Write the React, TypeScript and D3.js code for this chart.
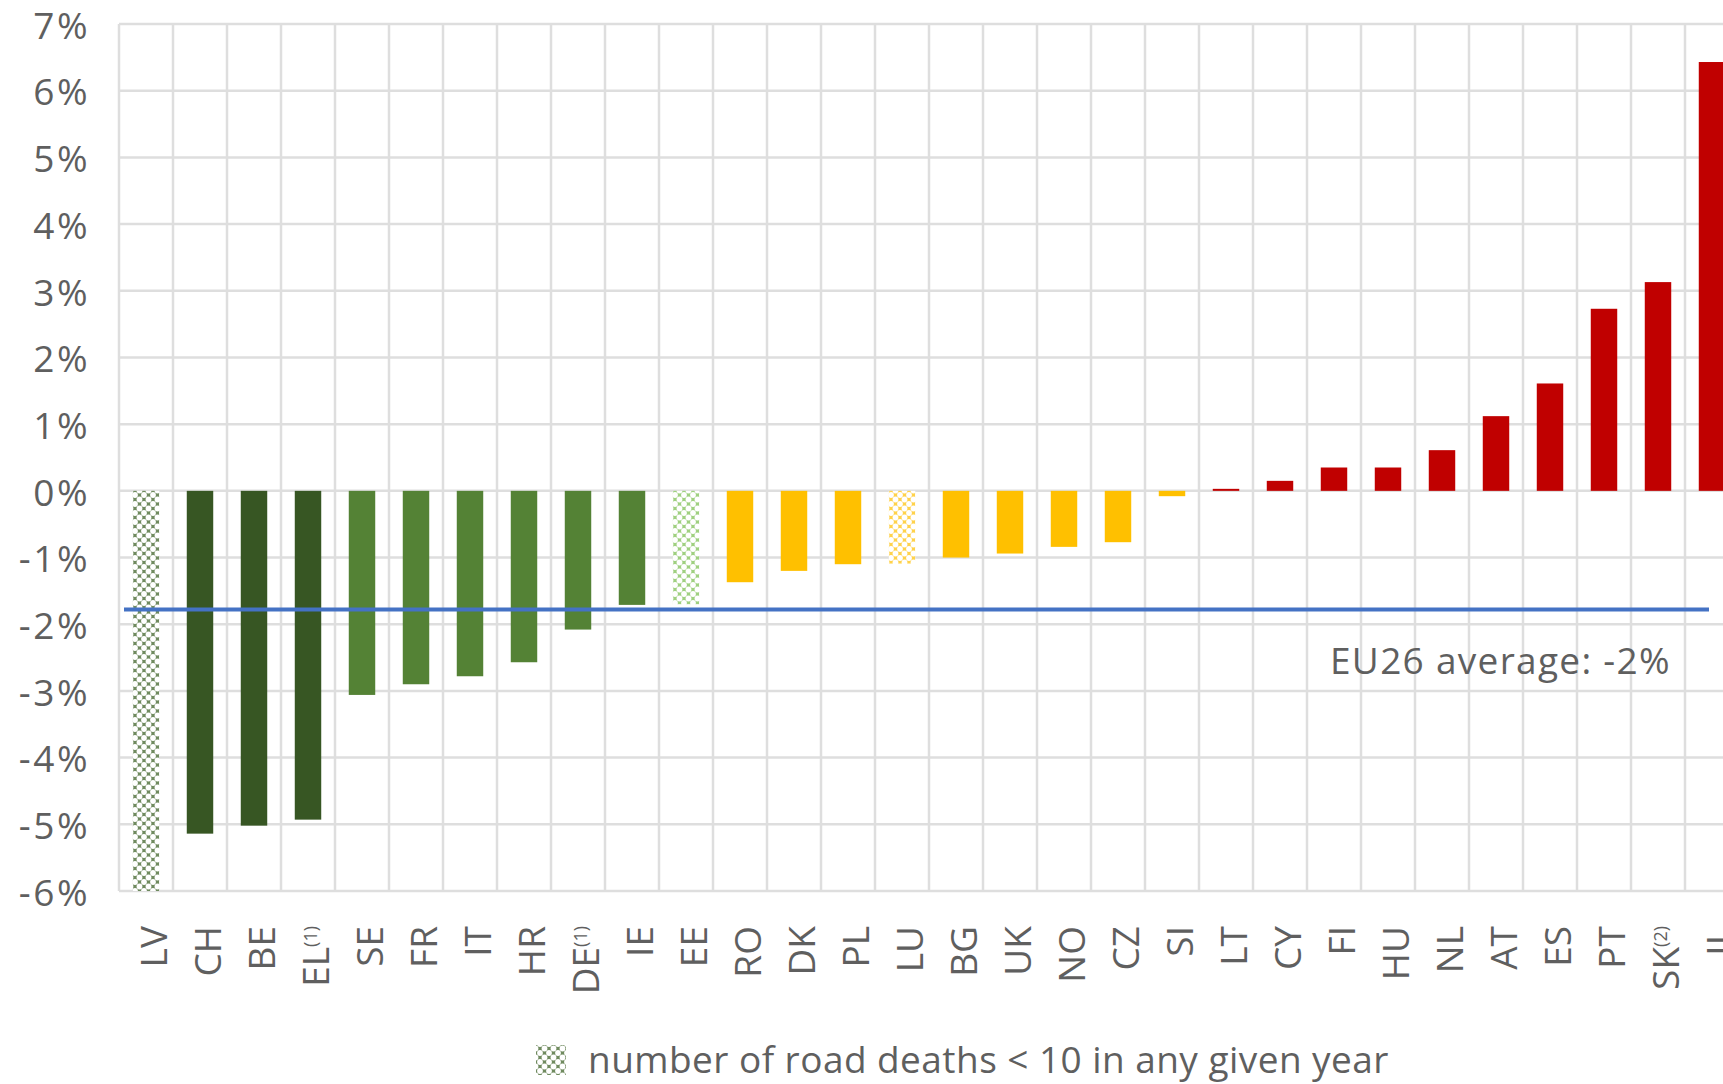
import React from 'react';
import * as d3 from 'd3';

const countries = ['LV', 'CH', 'BE', 'EL', 'SE', 'FR', 'IT', 'HR', 'DE', 'IE', 'EE', 'RO', 'DK', 'PL', 'LU', 'BG', 'UK', 'NO', 'CZ', 'SI', 'LT', 'CY', 'FI', 'HU', 'NL', 'AT', 'ES', 'PT', 'SK', 'IL'];
const footnotes: Record<string, string> = { EL: '(1)', DE: '(1)', SK: '(2)' };
const change = [-6.0, -5.14, -5.02, -4.93, -3.06, -2.9, -2.78, -2.57, -2.08, -1.71, -1.7, -1.37, -1.2, -1.1, -1.09, -1.0, -0.94, -0.84, -0.77, -0.08, 0.03, 0.15, 0.35, 0.35, 0.61, 1.12, 1.61, 2.73, 3.13, 6.43];
const group = ['hatchDark', 'dark', 'dark', 'dark', 'mid', 'mid', 'mid', 'mid', 'mid', 'mid', 'hatchLight', 'yellow', 'yellow', 'yellow', 'hatchYellow', 'yellow', 'yellow', 'yellow', 'yellow', 'yellow', 'red', 'red', 'red', 'red', 'red', 'red', 'red', 'red', 'red', 'red'];
const yTicks = [-6, -5, -4, -3, -2, -1, 0, 1, 2, 3, 4, 5, 6, 7];
const euAverage = -1.78;
const euLabel = 'EU26 average: -2%';
const legendLabel = 'number of road deaths < 10 in any given year';

const fills: Record<string, string> = {
  dark: '#375623',
  mid: '#548235',
  yellow: '#FFC000',
  red: '#C00000',
  hatchDark: 'url(#hatchDark)',
  hatchLight: 'url(#hatchLight)',
  hatchYellow: 'url(#hatchYellow)',
};

const W = 1723;
const H = 1084;
const font = '"Open Sans", "Noto Sans", sans-serif';
const textColor = '#5f5f5f';

// small lattice fill used for countries with few road deaths
const Hatch = ({ id, color }: { id: string; color: string }) => (
  <pattern id={id} width={9} height={9} patternUnits="userSpaceOnUse">
    <rect width={9} height={9} fill={color} />
    {[[0, 0], [9, 0], [0, 9], [9, 9], [4.5, 4.5]].map(([cx, cy], i) => (
      <circle key={i} cx={cx} cy={cy} r={2.9} fill="#fff" />
    ))}
  </pattern>
);

export default function App() {
  const x = d3.scaleBand().domain(countries).range([119, 119 + 54 * countries.length]).paddingInner(0.51).paddingOuter(0.255);
  const grid = d3.scaleBand().domain(countries).range([119, 119 + 54 * countries.length]);
  const y = d3.scaleLinear().domain([-6, 7]).range([891, 24]);
  const plotLeft = 119;

  return (
    <svg width={W} height={H} style={{ position: 'absolute', left: 0, top: 0, display: 'block', background: '#fff' }} fontFamily={font}>
      <defs>
        <Hatch id="hatchDark" color="#6f8a5e" />
        <Hatch id="hatchLight" color="#9fd07f" />
        <Hatch id="hatchYellow" color="#ffd24a" />
      </defs>

      {/* gridlines */}
      {yTicks.map((t) => (
        <line key={`h${t}`} x1={plotLeft} x2={W} y1={y(t)} y2={y(t)} stroke="#dedede" strokeWidth={2.5} />
      ))}
      {countries.map((c) => (
        <line key={`v${c}`} x1={grid(c)!} x2={grid(c)!} y1={y(7)} y2={y(-6)} stroke="#dedede" strokeWidth={2.5} />
      ))}

      {/* y axis labels */}
      {yTicks.map((t) => (
        <text key={`yl${t}`} x={90} y={y(t)} dy="0.4em" textAnchor="end" fontSize={37} fill={textColor} letterSpacing={2.5}>
          {`${t}%`}
        </text>
      ))}

      {/* bars */}
      {countries.map((c, i) => {
        const v = change[i];
        const top = y(Math.max(0, v));
        const h = Math.max(Math.abs(y(v) - y(0)), 1.5);
        return <rect key={`b${c}`} x={x(c)!} y={top} width={x.bandwidth()} height={h} fill={fills[group[i]]} />;
      })}

      {/* EU average */}
      <line x1={plotLeft + 5} x2={x('IL')! + x.bandwidth() / 2 - 3} y1={y(euAverage)} y2={y(euAverage)} stroke="#4472C4" strokeWidth={4} />
      <text x={1330} y={y(-2.55)} dy="0.36em" fontSize={37} fill={textColor} letterSpacing={1.3}>{euLabel}</text>

      {/* x labels */}
      {countries.map((c) => {
        const cx = grid(c)! + grid.bandwidth() / 2 + 8;
        return (
          <text key={`xl${c}`} transform={`translate(${cx},926) rotate(-90)`} textAnchor="end" dy="0.36em" fontSize={37} fill={textColor}>
            {c}
            {footnotes[c] && (
              <tspan fontSize={18} baselineShift="super">{footnotes[c]}</tspan>
            )}
          </text>
        );
      })}

      {/* legend */}
      <rect x={536} y={1045} width={30} height={30} fill="url(#hatchDark)" />
      <text x={588} y={1060} dy="0.36em" fontSize={37} fill={textColor} letterSpacing={0.45}>{legendLabel}</text>
    </svg>
  );
}
